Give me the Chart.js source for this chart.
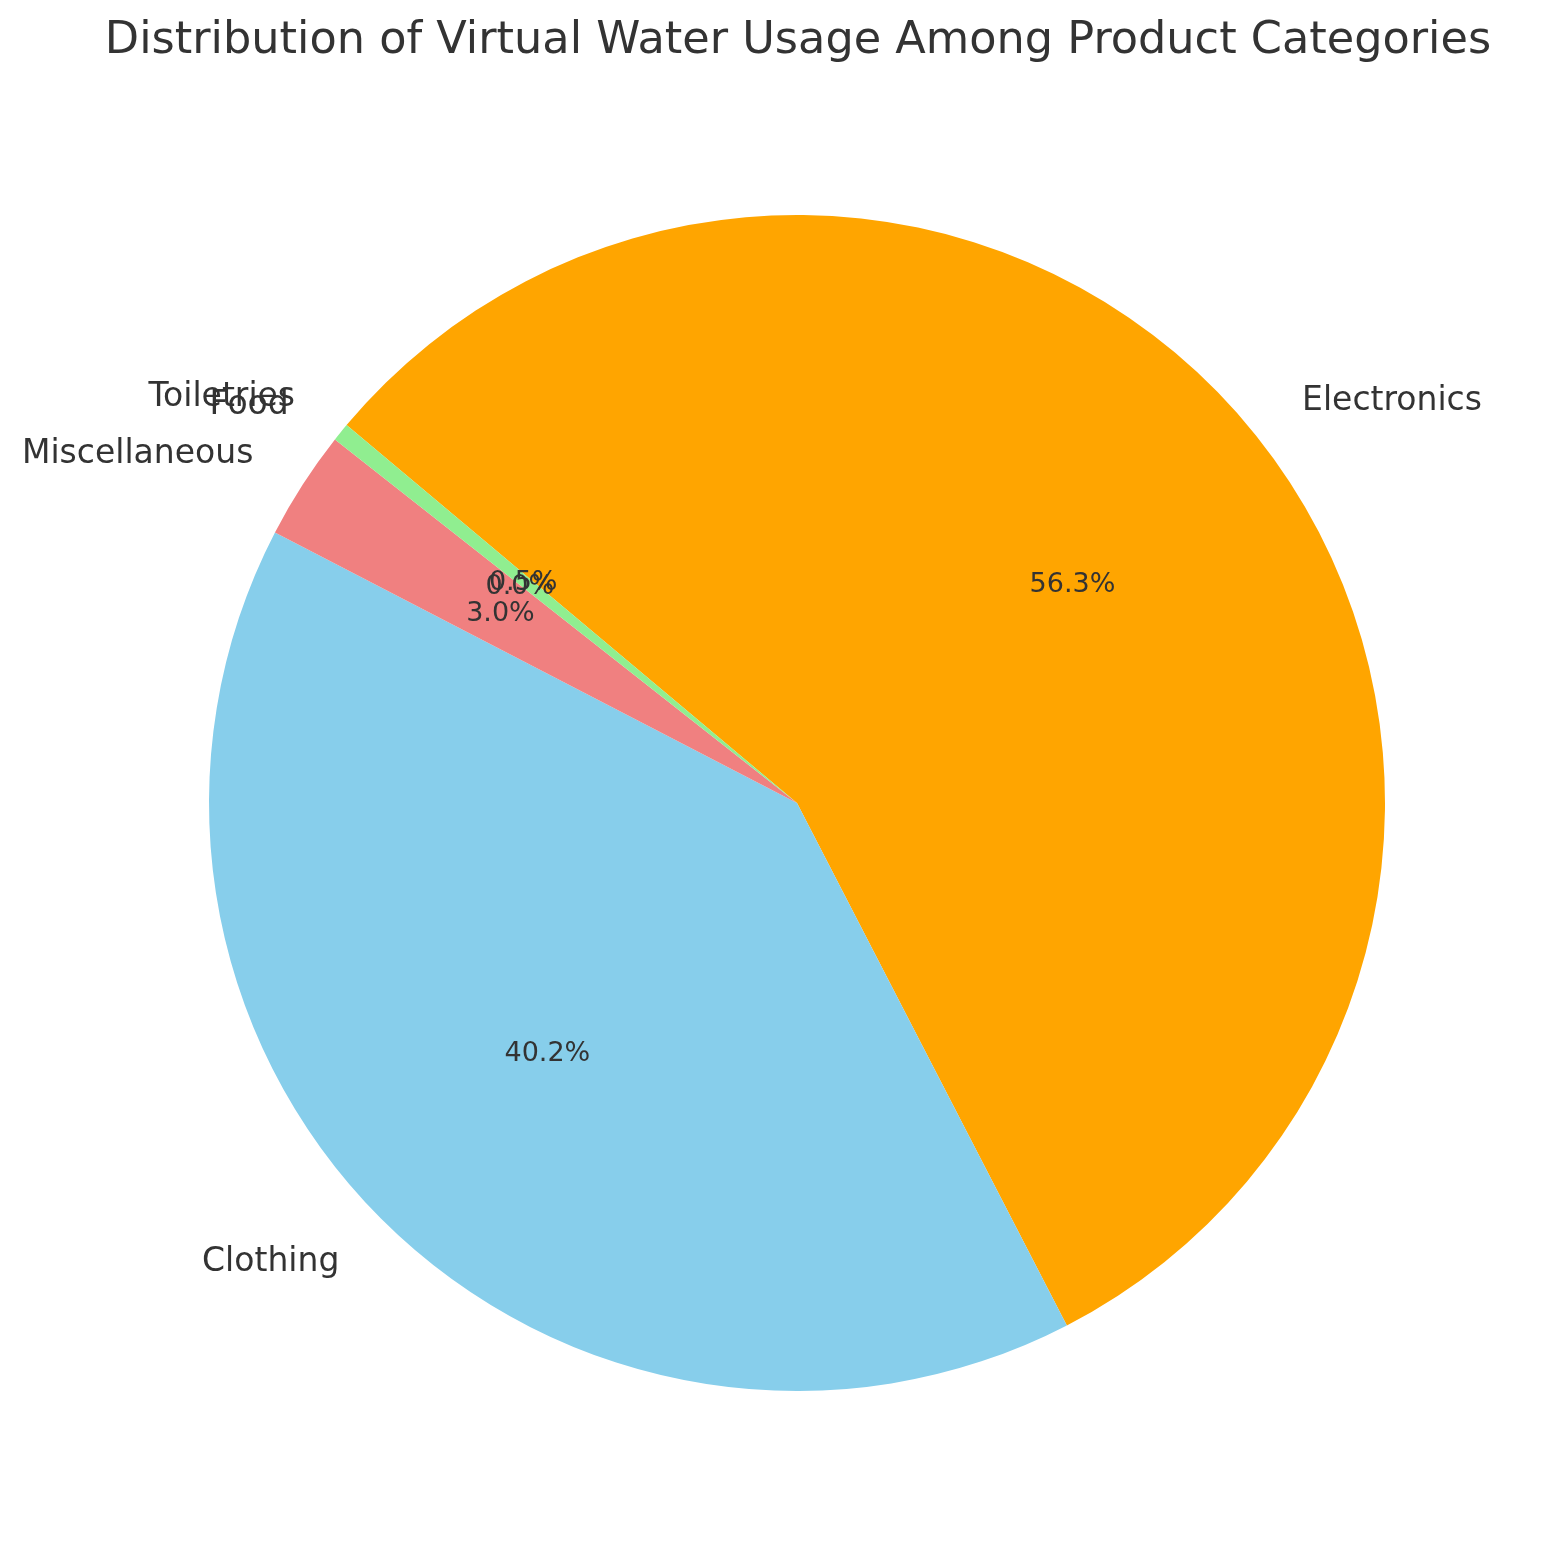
<!DOCTYPE html>
<html>
<head>
<meta charset="utf-8">
<script src="https://cdn.jsdelivr.net/npm/chart.js@4.4.0/dist/chart.umd.min.js"></script>
<style>
  html, body { margin: 0; padding: 0; background: #fff; }
  #wrap { width: 1553px; height: 1560px; }
</style>
</head>
<body>
<div id="wrap"><canvas id="waterChart" width="1553" height="1560"></canvas></div>
<script>
const titleText = 'Distribution of Virtual Water Usage Among Product Categories';

// clockwise order (matplotlib draws counter-clockwise from 140deg)
const categories = ['Electronics', 'Clothing', 'Miscellaneous', 'Food', 'Toiletries'];
const waterUsage = [56.3, 40.2, 3.0, 0.0, 0.5];
const sliceColors = ['#FFA500', '#87CEEB', '#F08080', '#FFD700', '#90EE90'];

const textColor = '#333333';
const fontFamily = '"DejaVu Sans", sans-serif';

const pieLabels = {
  id: 'pieLabels',
  afterDatasetsDraw(chart) {
    const ctx = chart.ctx;
    const meta = chart.getDatasetMeta(0);
    const total = waterUsage.reduce((a, b) => a + b, 0);
    ctx.save();
    ctx.fillStyle = textColor;
    ctx.textBaseline = 'middle';
    meta.data.forEach((arc, i) => {
      const mid = (arc.startAngle + arc.endAngle) / 2;
      const r = arc.outerRadius;
      // outer category label
      const lx = arc.x + Math.cos(mid) * r * 1.1;
      const ly = arc.y + Math.sin(mid) * r * 1.1;
      ctx.font = '33px ' + fontFamily;
      ctx.textAlign = lx >= arc.x ? 'left' : 'right';
      ctx.fillText(categories[i], lx, ly + 2);
      // percentage inside
      const px = arc.x + Math.cos(mid) * r * 0.6;
      const py = arc.y + Math.sin(mid) * r * 0.6;
      ctx.font = '27px ' + fontFamily;
      ctx.textAlign = 'center';
      ctx.fillText((waterUsage[i] / total * 100).toFixed(1) + '%', px, py + 2);
    });
    // title
    ctx.font = '44.6px ' + fontFamily;
    ctx.textAlign = 'center';
    ctx.fillText(titleText, 798, 41);
    ctx.restore();
  }
};

const ctx = document.getElementById('waterChart').getContext('2d');
new Chart(ctx, {
  type: 'pie',
  data: {
    labels: categories,
    datasets: [{
      data: waterUsage,
      backgroundColor: sliceColors,
      borderWidth: 0
    }]
  },
  options: {
    responsive: false,
    animation: false,
    devicePixelRatio: 1,
    rotation: -50,
    layout: {
      padding: { left: 209, right: 168, top: 215, bottom: 169 }
    },
    plugins: {
      legend: { display: false },
      tooltip: { enabled: false },
      title: { display: false }
    }
  },
  plugins: [pieLabels]
});
</script>
</body>
</html>
